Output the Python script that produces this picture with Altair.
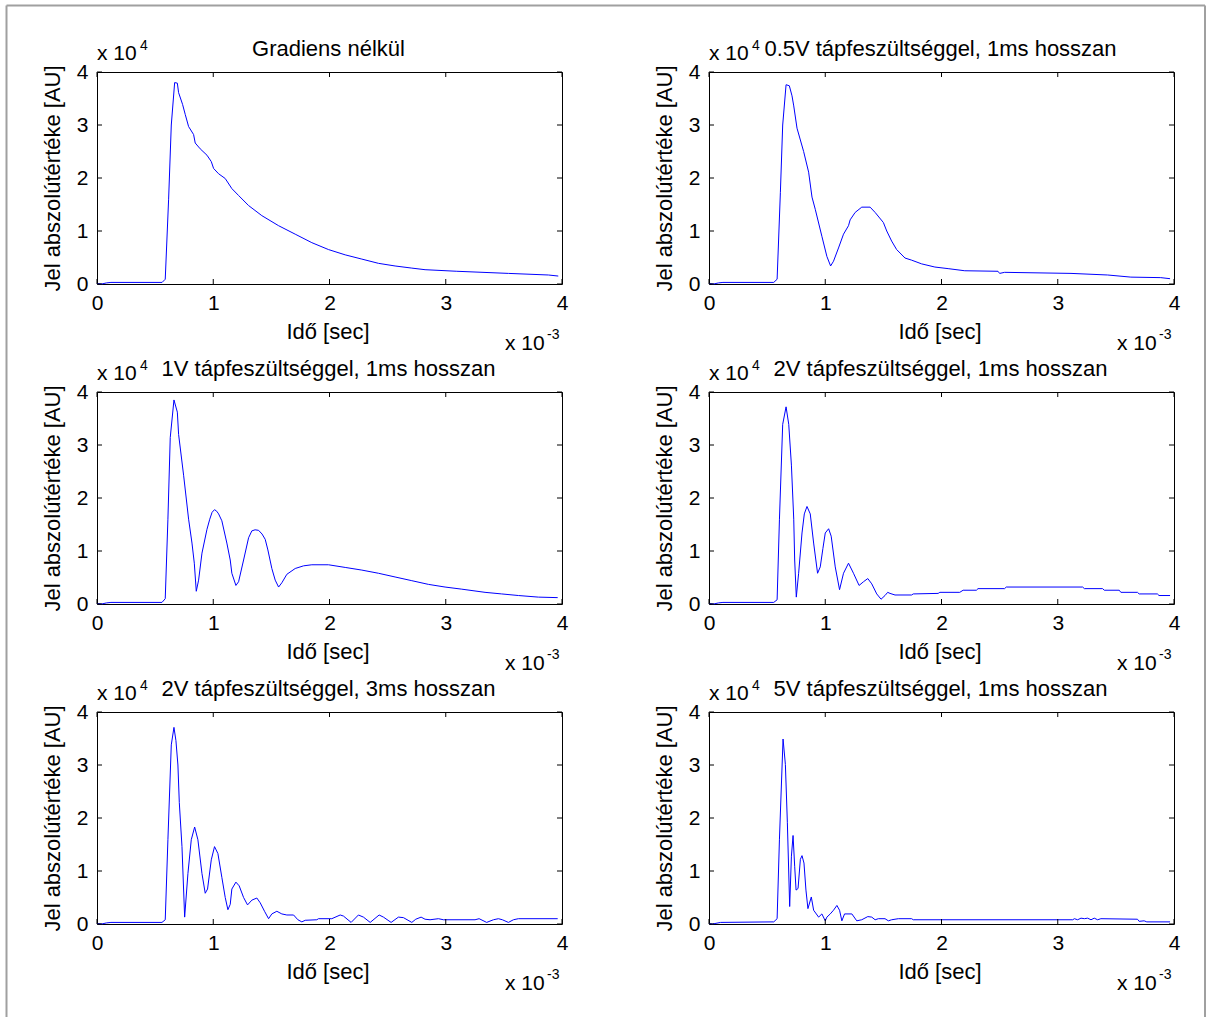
import altair as alt
import pandas as pd

FONT = "Liberation Sans"

titles = [
    "Gradiens nélkül",
    "0.5V tápfeszültséggel, 1ms hosszan",
    "1V tápfeszültséggel, 1ms hosszan",
    "2V tápfeszültséggel, 1ms hosszan",
    "2V tápfeszültséggel, 3ms hosszan",
    "5V tápfeszültséggel, 1ms hosszan",
]
x_ticks = [0, 1, 2, 3, 4]
y_ticks = [0, 1, 2, 3, 4]
x_label = "Idő [sec]"
y_label = "Jel abszolútértéke [AU]"
y_mult = ("x 10", "4")
x_mult = ("x 10", "-3")

# (time [x1e-3 s], |signal| [x1e4 AU])
p1 = [(0, 0.01), (0.04, 0.0), (0.08, 0.02), (0.12, 0.03), (0.56, 0.03), (0.587, 0.09),
      (0.616, 1.6), (0.639, 3.0), (0.668, 3.8), (0.691, 3.79), (0.702, 3.61), (0.736, 3.39),
      (0.759, 3.2), (0.788, 2.97), (0.831, 2.82), (0.845, 2.66), (0.888, 2.55), (0.946, 2.43),
      (0.983, 2.31), (1.003, 2.18), (1.046, 2.08), (1.103, 1.99), (1.160, 1.8), (1.218, 1.67),
      (1.304, 1.48), (1.418, 1.29), (1.562, 1.1), (1.705, 0.94), (1.848, 0.78), (1.991, 0.65),
      (2.135, 0.55), (2.278, 0.47), (2.421, 0.39), (2.564, 0.34), (2.708, 0.30), (2.822, 0.27),
      (3.095, 0.24), (3.539, 0.20), (3.883, 0.17), (3.968, 0.15)]

p2 = [(0, 0.01), (0.04, 0.0), (0.08, 0.02), (0.12, 0.03), (0.557, 0.03), (0.586, 0.09),
      (0.614, 1.73), (0.634, 3.0), (0.663, 3.76), (0.691, 3.74), (0.714, 3.55), (0.729, 3.36),
      (0.757, 2.94), (0.814, 2.50), (0.857, 2.11), (0.886, 1.64), (0.914, 1.41), (0.971, 0.90),
      (1.014, 0.52), (1.046, 0.34), (1.071, 0.43), (1.114, 0.68), (1.157, 0.94), (1.2, 1.10),
      (1.214, 1.21), (1.257, 1.35), (1.314, 1.45), (1.386, 1.45), (1.429, 1.35), (1.5, 1.16),
      (1.529, 1.0), (1.571, 0.81), (1.614, 0.65), (1.686, 0.49), (1.743, 0.45), (1.829, 0.38),
      (1.943, 0.32), (2.057, 0.29), (2.2, 0.25), (2.486, 0.24), (2.5, 0.20), (2.543, 0.22),
      (3.114, 0.20), (3.429, 0.17), (3.629, 0.13), (3.886, 0.12), (3.966, 0.10)]

p3 = [(0, 0.01), (0.04, 0.0), (0.08, 0.02), (0.12, 0.03), (0.559, 0.03), (0.587, 0.1),
      (0.610, 1.6), (0.630, 3.14), (0.662, 3.85), (0.691, 3.62), (0.702, 3.2), (0.745, 2.43),
      (0.788, 1.6), (0.817, 1.15), (0.837, 0.77), (0.854, 0.24), (0.874, 0.45), (0.903, 0.96),
      (0.946, 1.41), (0.97, 1.6), (0.99, 1.73), (1.011, 1.78), (1.03, 1.75), (1.046, 1.70),
      (1.074, 1.57), (1.117, 1.15), (1.146, 0.83), (1.160, 0.58), (1.195, 0.35), (1.218, 0.42),
      (1.261, 0.83), (1.304, 1.25), (1.332, 1.38), (1.36, 1.40), (1.390, 1.39), (1.42, 1.32),
      (1.447, 1.22), (1.470, 1.02), (1.504, 0.67), (1.533, 0.45), (1.562, 0.32), (1.590, 0.40),
      (1.633, 0.56), (1.705, 0.67), (1.777, 0.72), (1.848, 0.74), (1.991, 0.74), (2.135, 0.69),
      (2.278, 0.64), (2.421, 0.58), (2.564, 0.51), (2.708, 0.44), (2.851, 0.37), (2.994, 0.32),
      (3.138, 0.28), (3.338, 0.22), (3.481, 0.19), (3.625, 0.16), (3.797, 0.13), (3.963, 0.12)]

p4 = [(0, 0.01), (0.04, 0.0), (0.08, 0.02), (0.12, 0.03), (0.557, 0.03), (0.586, 0.08),
      (0.606, 1.6), (0.634, 3.39), (0.663, 3.72), (0.686, 3.39), (0.709, 2.62), (0.729, 1.6),
      (0.737, 0.83), (0.751, 0.13), (0.771, 0.58), (0.8, 1.34), (0.82, 1.7), (0.843, 1.84),
      (0.871, 1.70), (0.9, 1.15), (0.934, 0.58), (0.957, 0.70), (0.98, 1.05), (1.0, 1.34),
      (1.029, 1.42), (1.051, 1.28), (1.086, 0.70), (1.123, 0.27), (1.157, 0.58), (1.2, 0.77),
      (1.243, 0.58), (1.291, 0.35), (1.329, 0.42), (1.366, 0.48), (1.4, 0.38), (1.443, 0.19),
      (1.48, 0.09), (1.514, 0.16), (1.537, 0.22), (1.557, 0.20), (1.6, 0.17), (1.743, 0.17),
      (1.757, 0.19), (1.971, 0.20), (1.986, 0.22), (2.157, 0.22), (2.186, 0.26), (2.3, 0.26),
      (2.314, 0.29), (2.543, 0.29), (2.557, 0.32), (3.214, 0.32), (3.229, 0.29), (3.386, 0.29),
      (3.4, 0.26), (3.529, 0.26), (3.543, 0.22), (3.686, 0.22), (3.7, 0.19), (3.857, 0.19),
      (3.871, 0.16), (3.966, 0.16)]

p5 = [(0, 0.01), (0.04, 0.0), (0.08, 0.02), (0.12, 0.03), (0.559, 0.03), (0.587, 0.08),
      (0.61, 1.59), (0.639, 3.38), (0.662, 3.71), (0.679, 3.46), (0.696, 3.0), (0.708, 2.29),
      (0.731, 1.46), (0.754, 0.13), (0.782, 0.95), (0.811, 1.59), (0.840, 1.83), (0.868, 1.59),
      (0.903, 0.95), (0.931, 0.58), (0.951, 0.66), (0.983, 1.21), (1.011, 1.46), (1.040, 1.33),
      (1.074, 0.88), (1.103, 0.50), (1.126, 0.27), (1.146, 0.37), (1.160, 0.66), (1.195, 0.79),
      (1.223, 0.72), (1.261, 0.50), (1.295, 0.36), (1.332, 0.45), (1.375, 0.49), (1.404, 0.40),
      (1.441, 0.24), (1.476, 0.10), (1.504, 0.19), (1.547, 0.24), (1.590, 0.19), (1.633, 0.17),
      (1.691, 0.17), (1.728, 0.08), (1.762, 0.04), (1.791, 0.07), (1.891, 0.08), (1.905, 0.10),
      (2.020, 0.10), (2.092, 0.17), (2.120, 0.15), (2.186, 0.03), (2.249, 0.17), (2.292, 0.13),
      (2.350, 0.03), (2.427, 0.17), (2.464, 0.13), (2.530, 0.03), (2.593, 0.13), (2.636, 0.12),
      (2.708, 0.03), (2.742, 0.09), (2.788, 0.13), (2.822, 0.09), (2.865, 0.08), (2.937, 0.10),
      (2.980, 0.08), (3.252, 0.08), (3.287, 0.10), (3.352, 0.03), (3.410, 0.08), (3.453, 0.10),
      (3.487, 0.08), (3.539, 0.03), (3.582, 0.08), (3.625, 0.10), (3.963, 0.10)]

p6 = [(0, 0.01), (0.03, 0.0), (0.1, 0.03), (0.557, 0.04), (0.586, 0.10), (0.606, 1.6),
      (0.637, 3.49), (0.657, 3.01), (0.674, 1.92), (0.694, 0.33), (0.709, 1.28), (0.723, 1.67),
      (0.737, 1.09), (0.749, 0.64), (0.766, 0.67), (0.786, 1.22), (0.8, 1.29), (0.817, 1.15),
      (0.834, 0.64), (0.851, 0.29), (0.88, 0.51), (0.9, 0.26), (0.943, 0.13), (0.971, 0.19),
      (1.0, 0.06), (1.014, 0.13), (1.043, 0.19), (1.071, 0.26), (1.1, 0.35), (1.123, 0.26),
      (1.143, 0.06), (1.166, 0.19), (1.229, 0.19), (1.271, 0.06), (1.314, 0.08), (1.366, 0.14),
      (1.4, 0.13), (1.429, 0.08), (1.457, 0.10), (1.514, 0.10), (1.543, 0.06), (1.571, 0.08),
      (1.629, 0.10), (1.743, 0.10), (1.757, 0.08), (3.129, 0.08), (3.143, 0.10), (3.171, 0.08),
      (3.2, 0.11), (3.229, 0.10), (3.257, 0.11), (3.286, 0.08), (3.314, 0.11), (3.343, 0.08),
      (3.371, 0.10), (3.686, 0.09), (3.7, 0.05), (3.743, 0.06), (3.766, 0.04), (3.966, 0.04)]

series = [p1, p2, p3, p4, p5, p6]

W, H = 465, 212
TICK = 5

xscale = alt.Scale(domain=[0, 4], nice=False, zero=False)
yscale = alt.Scale(domain=[0, 4], nice=False, zero=False)

xaxis = alt.Axis(
    values=x_ticks, title=x_label, ticks=False, domain=False, grid=False,
    labelFlush=False, labelFontSize=21, labelFont=FONT, labelColor="black",
    labelPadding=8, titleFont=FONT, titleFontSize=22, titleFontWeight="normal",
    titleColor="black", titleX=W / 2 - 2, titleY=54, titleBaseline="alphabetic",
    titleAlign="center")
yaxis = alt.Axis(
    values=y_ticks, title=y_label, ticks=False, domain=False, grid=False,
    labelFlush=False, labelFontSize=21, labelFont=FONT, labelColor="black",
    labelPadding=9, titleFont=FONT, titleFontSize=22, titleFontWeight="normal",
    titleColor="black", titleAngle=270, titleX=-37.5, titleY=H / 2,
    titleBaseline="alphabetic", titleAlign="center")


def panel(i):
    df = pd.DataFrame(series[i], columns=["t", "v"])
    line = alt.Chart(df).mark_line(color="#0000ff", strokeWidth=1).encode(
        x=alt.X("t:Q", scale=xscale, axis=xaxis),
        y=alt.Y("v:Q", scale=yscale, axis=yaxis),
        order=alt.Order("t:Q"),
    )
    xt = alt.Chart(pd.DataFrame({"t": x_ticks}))
    yt = alt.Chart(pd.DataFrame({"v": y_ticks}))
    tick_b = xt.mark_rule(color="black", strokeWidth=1).encode(
        x=alt.X("t:Q", scale=xscale, axis=xaxis), y=alt.value(H - TICK), y2=alt.value(H))
    tick_t = xt.mark_rule(color="black", strokeWidth=1).encode(
        x=alt.X("t:Q", scale=xscale, axis=xaxis), y=alt.value(0), y2=alt.value(TICK))
    tick_l = yt.mark_rule(color="black", strokeWidth=1).encode(
        y=alt.Y("v:Q", scale=yscale, axis=yaxis), x=alt.value(0), x2=alt.value(TICK))
    tick_r = yt.mark_rule(color="black", strokeWidth=1).encode(
        y=alt.Y("v:Q", scale=yscale, axis=yaxis), x=alt.value(W - TICK), x2=alt.value(W))

    tdf = pd.DataFrame({"s": [titles[i]]})
    title = alt.Chart(tdf).mark_text(
        font=FONT, fontSize=22, color="black", align="center", baseline="alphabetic"
    ).encode(text="s:N", x=alt.value(W / 2 - 1), y=alt.value(-16))

    ym1 = alt.Chart(tdf).mark_text(
        text=y_mult[0], font=FONT, fontSize=21, color="black", align="left", baseline="alphabetic"
    ).encode(x=alt.value(0), y=alt.value(-12))
    ym2 = alt.Chart(tdf).mark_text(
        text=y_mult[1], font=FONT, fontSize=14, color="black", align="left", baseline="alphabetic"
    ).encode(x=alt.value(43), y=alt.value(-22))
    xm1 = alt.Chart(tdf).mark_text(
        text=x_mult[0], font=FONT, fontSize=21, color="black", align="left", baseline="alphabetic"
    ).encode(x=alt.value(W - 57), y=alt.value(H + 66))
    xm2 = alt.Chart(tdf).mark_text(
        text=x_mult[1], font=FONT, fontSize=14, color="black", align="left", baseline="alphabetic"
    ).encode(x=alt.value(W - 15), y=alt.value(H + 55))

    layers = [line, tick_b, tick_t, tick_l, tick_r, title, ym1, ym2, xm1, xm2]

    if i == 0:
        fr = alt.Chart(tdf)
        left = fr.mark_rule(color="#a0a0a0", strokeWidth=2).encode(
            x=alt.value(-90.5), y=alt.value(-66.5), y2=alt.value(945))
        top = fr.mark_rule(color="#a0a0a0", strokeWidth=2).encode(
            y=alt.value(-66.5), x=alt.value(-90.5), x2=alt.value(1108))
        right = fr.mark_rule(color="#a0a0a0", strokeWidth=2).encode(
            x=alt.value(1108), y=alt.value(-66.5), y2=alt.value(945))
        layers = [left, top, right] + layers

    return alt.layer(*layers).properties(width=W, height=H)


chart = alt.concat(
    *[panel(i) for i in range(6)],
    columns=2,
    spacing={"row": 108, "column": 147},
    bounds="flush",
).properties(
    padding={"left": 5, "top": 4, "right": 2, "bottom": 0},
    background="white",
).configure_view(stroke="black", strokeWidth=1)

chart.save("out.html", embed_options={"renderer": "svg", "actions": False})
